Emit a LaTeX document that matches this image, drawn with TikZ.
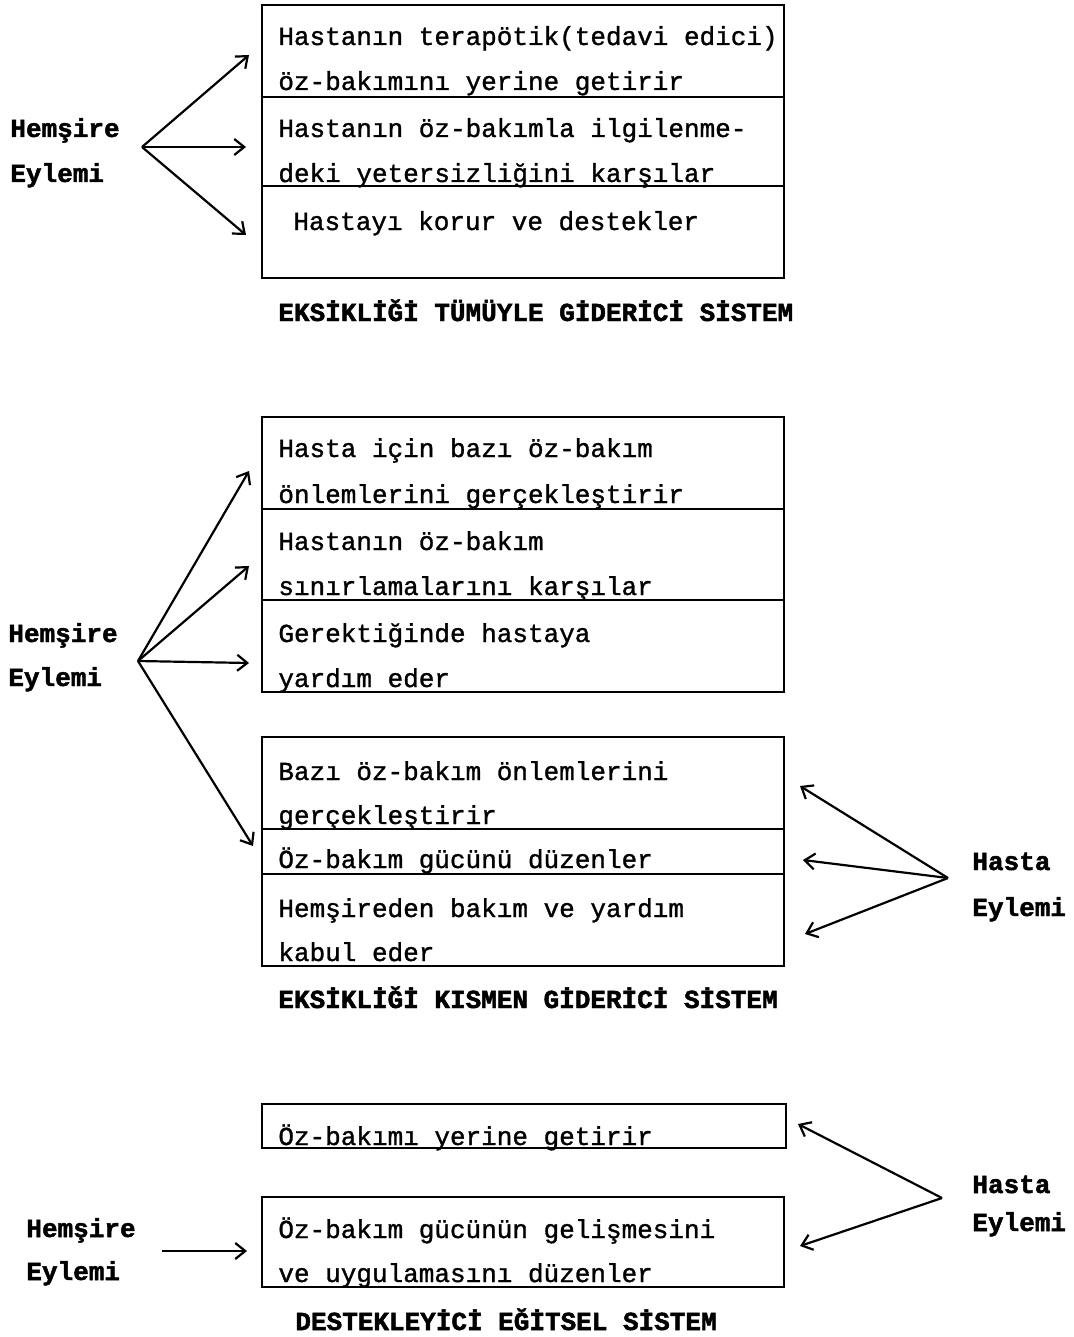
\documentclass[tikz,border=0pt]{standalone}
\usepackage{fontspec}
\usepackage{tikz}
\usetikzlibrary{arrows.meta}
\newfontfamily\bodyfont{Liberation Mono}[FakeBold=1.2]
\newfontfamily\labelfont{Liberation Mono Bold}[FakeBold=1.8]
\tikzset{
  txt/.style={anchor=base west,inner sep=0pt,font=\bodyfont\fontsize{13}{15}\selectfont},
  lbl/.style={anchor=base west,inner sep=0pt,font=\labelfont\fontsize{13}{15}\selectfont},
  ttl/.style={lbl},
  arr/.style={line width=1.1pt,-{Straight Barb[length=5pt,width=8pt]}},
  box/.style={line width=1pt}
}

\begin{document}
\begin{tikzpicture}[x=0.5pt,y=-0.5pt]
\useasboundingbox (0,0) rectangle (1074,1337);
%%%%% System 1 %%%%%
\draw[box] (262,5) rectangle (784,278);
\draw[box] (262,97)--(784,97);
\draw[box] (262,186)--(784,186);
\node[txt] (s1a) at (278,45) {Hastanın terapötik(tedavi edici)};
\node[txt] (s1b) at (278,90) {öz-bakımını yerine getirir};
\node[txt] (s1c) at (278,137) {Hastanın öz-bakımla ilgilenme-};
\node[txt] (s1d) at (278,182) {deki yetersizliğini karşılar};
\node[txt] (s1e) at (293,230) {Hastayı korur ve destekler};
\node[lbl] (hem1) at (10,137) {Hemşire};
\node[lbl] (eyl1) at (10,182) {Eylemi};
\coordinate (n1) at (142,147);
\coordinate (n1a) at (249,55);
\coordinate (n1b) at (246,147);
\coordinate (n1c) at (246,235);
\draw[arr] (n1)--(n1a);
\draw[arr] (n1)--(n1b);
\draw[arr] (n1)--(n1c);
\node[ttl] (title1) at (278,321) {EKSİKLİĞİ TÜMÜYLE GİDERİCİ SİSTEM};

%%%%% System 2 %%%%%
\draw[box] (262,417) rectangle (784,692);
\draw[box] (262,509)--(784,509);
\draw[box] (262,600)--(784,600);
\node[txt] (s2a) at (278,457) {Hasta için bazı öz-bakım};
\node[txt] (s2b) at (278,503) {önlemlerini gerçekleştirir};
\node[txt] (s2c) at (278,550) {Hastanın öz-bakım};
\node[txt] (s2d) at (278,595) {sınırlamalarını karşılar};
\node[txt] (s2e) at (278,642) {Gerektiğinde hastaya};
\node[txt] (s2f) at (278,687) {yardım eder};
\draw[box] (262,737) rectangle (784,966);
\draw[box] (262,829)--(784,829);
\draw[box] (262,874)--(784,874);
\node[txt] (s2g) at (278,780) {Bazı öz-bakım önlemlerini};
\node[txt] (s2h) at (278,824) {gerçekleştirir};
\node[txt] (s2i) at (278,868) {Öz-bakım gücünü düzenler};
\node[txt] (s2j) at (278,917) {Hemşireden bakım ve yardım};
\node[txt] (s2k) at (278,961) {kabul eder};
\node[lbl] (hem2) at (8,642) {Hemşire};
\node[lbl] (eyl2) at (8,686) {Eylemi};
\node[lbl] (has2) at (972,870) {Hasta};
\node[lbl] (pey2) at (972,916) {Eylemi};
\coordinate (n2) at (138,661);
\coordinate (n2a) at (249,471);
\coordinate (n2b) at (249,566);
\coordinate (n2c) at (249,663);
\coordinate (n2d) at (253,846);
\draw[arr] (n2)--(n2a);
\draw[arr] (n2)--(n2b);
\draw[arr] (n2)--(n2c);
\draw[arr] (n2)--(n2d);
\coordinate (p2) at (948,878);
\coordinate (p2a) at (800,786);
\coordinate (p2b) at (803,860);
\coordinate (p2c) at (805,934);
\draw[arr] (p2)--(p2a);
\draw[arr] (p2)--(p2b);
\draw[arr] (p2)--(p2c);
\node[ttl] (title2) at (278,1008) {EKSİKLİĞİ KISMEN GİDERİCİ SİSTEM};

%%%%% System 3 %%%%%
\draw[box] (262,1104) rectangle (786,1148);
\node[txt] (s3a) at (278,1145) {Öz-bakımı yerine getirir};
\draw[box] (262,1197) rectangle (784,1287);
\node[txt] (s3b) at (278,1238) {Öz-bakım gücünün gelişmesini};
\node[txt] (s3c) at (278,1282) {ve uygulamasını düzenler};
\node[lbl] (hem3) at (26,1237) {Hemşire};
\node[lbl] (eyl3) at (26,1280) {Eylemi};
\node[lbl] (has3) at (972,1193) {Hasta};
\node[lbl] (pey3) at (972,1231) {Eylemi};
\coordinate (n3) at (162,1251);
\coordinate (n3a) at (247,1251);
\draw[arr] (n3)--(n3a);
\coordinate (p3) at (942,1198);
\coordinate (p3a) at (798,1124);
\coordinate (p3b) at (800,1246);
\draw[arr] (p3)--(p3a);
\draw[arr] (p3)--(p3b);
\node[ttl] (title3) at (295,1330) {DESTEKLEYİCİ EĞİTSEL SİSTEM};
\end{tikzpicture}
\end{document}
